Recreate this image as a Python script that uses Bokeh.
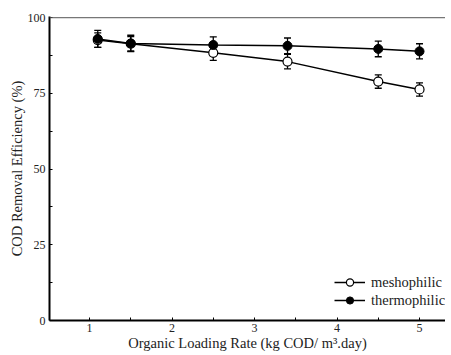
from bokeh.plotting import figure
from bokeh.models import ColumnDataSource, Whisker, LinearAxis, Legend, LegendItem, FixedTicker, Range1d, Span
from bokeh.embed import file_html
from bokeh.resources import INLINE

olr = [1.1, 1.5, 2.5, 3.4, 4.5, 5.0]
meso = [92.6, 91.4, 88.4, 85.5, 78.9, 76.3]
meso_err = [2.4, 2.4, 2.5, 2.4, 2.2, 2.2]
thermo = [93.0, 91.5, 91.0, 90.7, 89.7, 88.9]
thermo_err = [2.8, 2.7, 2.7, 2.6, 2.6, 2.5]
x_ticks = [1, 2, 3, 4, 5]
y_ticks = [0, 25, 50, 75, 100]

FONT = "Liberation Serif"

p = figure(width=445, height=353, output_backend="svg", toolbar_location=None,
           x_range=Range1d(0.515, 5.315), y_range=Range1d(0, 100.4),
           x_axis_location=None, y_axis_location=None,
           min_border_left=49, min_border_right=0, min_border_top=16, min_border_bottom=33)
p.outline_line_color = None
p.grid.grid_line_color = None
p.background_fill_color = "white"

xax = LinearAxis(ticker=FixedTicker(ticks=x_ticks, minor_ticks=[0.5, 1.5, 2.5, 3.5, 4.5]),
                 axis_label="Organic Loading Rate (kg COD/ m³.day)")
yax = LinearAxis(ticker=FixedTicker(ticks=y_ticks, minor_ticks=[12.5, 37.5, 62.5, 87.5]),
                 axis_label="COD Removal Efficiency (%)")
for ax in (xax, yax):
    ax.axis_line_width = 2
    ax.axis_line_color = "black"
    ax.major_tick_in = 3
    ax.major_tick_out = 0
    ax.minor_tick_in = 3
    ax.minor_tick_out = 0
    ax.major_label_text_font = FONT
    ax.major_label_text_font_size = "12px"
    ax.major_label_text_color = "#222222"
    ax.axis_label_text_font = FONT
    ax.axis_label_text_font_size = "14.5px"
    ax.axis_label_text_font_style = "normal"
    ax.axis_label_text_color = "#222222"
xax.major_label_standoff = 3
xax.axis_label_standoff = 0
yax.major_label_standoff = 4
yax.axis_label_standoff = 0
p.add_layout(xax, "below")
p.add_layout(yax, "left")

# top border line of the frame
p.add_layout(Span(location=y_ticks[-1], dimension="width", line_color="#555555", line_width=1))

src_m = ColumnDataSource(dict(x=olr, y=meso,
                              lo=[v - e for v, e in zip(meso, meso_err)],
                              hi=[v + e for v, e in zip(meso, meso_err)]))
src_t = ColumnDataSource(dict(x=olr, y=thermo,
                              lo=[v - e for v, e in zip(thermo, thermo_err)],
                              hi=[v + e for v, e in zip(thermo, thermo_err)]))

for src in (src_m, src_t):
    w = Whisker(source=src, base="x", lower="lo", upper="hi", line_color="black", line_width=1.3)
    for h in (w.upper_head, w.lower_head):
        h.size = 7
        h.line_color = "black"
        h.line_width = 1.3
    p.add_layout(w)

lm = p.line("x", "y", source=src_m, line_color="black", line_width=1.5)
cm = p.scatter("x", "y", source=src_m, size=9, fill_color="white", line_color="black", line_width=1.2)
lt = p.line("x", "y", source=src_t, line_color="black", line_width=1.5)
ct = p.scatter("x", "y", source=src_t, size=9, fill_color="black", line_color="black")

legend = Legend(items=[LegendItem(label="meshophilic", renderers=[lm, cm]),
                       LegendItem(label="thermophilic", renderers=[lt, ct])],
                location=(285, 11), border_line_color=None, background_fill_alpha=0,
                label_text_font=FONT, label_text_font_size="14.5px", label_text_color="#222222",
                glyph_width=31, glyph_height=18, spacing=0, padding=0, margin=0,
                label_standoff=6, label_height=18)
p.add_layout(legend)

open("out.html", "w").write(file_html(p, INLINE))
